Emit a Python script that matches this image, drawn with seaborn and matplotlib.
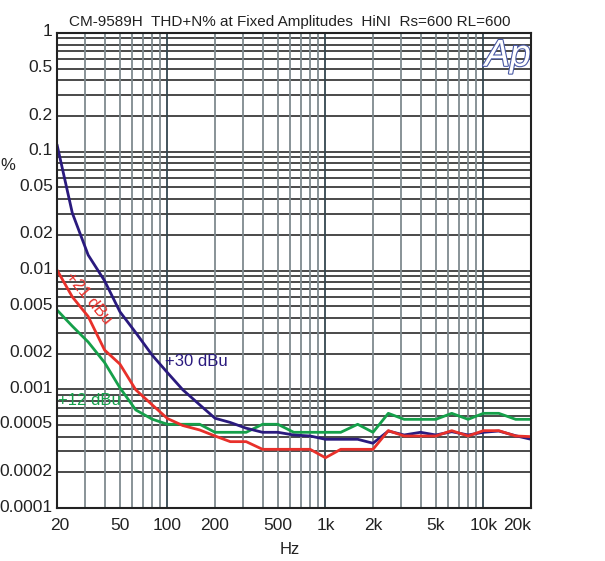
import numpy as np
import pandas as pd
import matplotlib
matplotlib.use('Agg')
import matplotlib.pyplot as plt
import matplotlib.patheffects as pe
import matplotlib.transforms as mtransforms
import seaborn as sns

sns.set_style("white")
plt.rcParams['font.family'] = ['Liberation Sans', 'DejaVu Sans']

# 1/3-octave measurement frequencies (Hz)
freq = [20, 25, 31.5, 40, 50, 63, 80, 100, 125, 160, 200, 250, 315, 400, 500,
        630, 800, 1000, 1250, 1600, 2000, 2500, 3150, 4000, 5000, 6300, 8000,
        10000, 12500, 16000, 20000]

# THD+N (%)
thd_30 = [0.115, 0.0305, 0.0135, 0.0082, 0.0045, 0.0030, 0.00194, 0.00138,
          0.00099, 0.00074, 0.00057, 0.000525, 0.00047, 0.000434, 0.000434,
          0.000412, 0.000404, 0.000379, 0.000379, 0.000379, 0.000351, 0.000445,
          0.000412, 0.000434, 0.000412, 0.000439, 0.000412, 0.000434, 0.000445,
          0.000406, 0.000379]
thd_21 = [0.0101, 0.0060, 0.0041, 0.00214, 0.00163, 0.00099, 0.00074, 0.000567,
          0.000495, 0.000454, 0.000404, 0.000362, 0.000362, 0.000312, 0.000312,
          0.000312, 0.000312, 0.000265, 0.000312, 0.000312, 0.000312, 0.000448,
          0.000404, 0.000404, 0.000404, 0.000448, 0.000404, 0.000448, 0.000448,
          0.000404, 0.000399]
thd_12 = [0.00465, 0.0034, 0.0025, 0.00168, 0.00103, 0.00067, 0.00056, 0.000507,
          0.000507, 0.000507, 0.000434, 0.000434, 0.000434, 0.000507, 0.000507,
          0.000434, 0.000434, 0.000434, 0.000434, 0.000507, 0.000434, 0.000627,
          0.000558, 0.000558, 0.000558, 0.000627, 0.000558, 0.000627, 0.000627,
          0.000558, 0.000558]

x_ticks = [20, 50, 100, 200, 500, 1000, 2000, 5000, 10000, 20000]
x_labels = ['20', '50', '100', '200', '500', '1k', '2k', '5k', '10k', '20k']
y_ticks = [1, 0.5, 0.2, 0.1, 0.05, 0.02, 0.01, 0.005, 0.002, 0.001,
           0.0005, 0.0002, 0.0001]
y_labels = ['1', '0.5', '0.2', '0.1', '0.05', '0.02', '0.01', '0.005',
            '0.002', '0.001', '0.0005', '0.0002', '0.0001']

c30, c21, c12 = '#2a1a7e', '#e8302a', '#15a04a'

df = pd.DataFrame({'Hz': freq * 3,
                   'THD': thd_30 + thd_21 + thd_12,
                   'Level': ['+30 dBu'] * len(freq) + ['+21 dBu'] * len(freq)
                            + ['+12 dBu'] * len(freq)})

fig = plt.figure(figsize=(6.05, 5.61), dpi=100)
ax = fig.add_axes([57 / 605, 53 / 561, 474 / 605, 475 / 561])

ax.set_xscale('log')
ax.set_yscale('log')
ax.set_xlim(20, 20000)
ax.set_ylim(0.0001, 1)

# grid: horizontal dark, vertical grey
for dec in [1e-4, 1e-3, 1e-2, 1e-1]:
    for m in range(1, 10):
        ax.axhline(dec * m, color='#2b2b2b', lw=1.2, zorder=1)
for dec in [10, 100, 1000, 10000]:
    for m in range(1, 10):
        f = dec * m
        if 20 < f < 20000:
            col = '#34474f' if m == 1 else '#7f8a8f'
            ax.axvline(f, color=col, lw=1.3, zorder=1)

sns.lineplot(data=df, x='Hz', y='THD', hue='Level',
             palette={'+30 dBu': c30, '+21 dBu': c21, '+12 dBu': c12},
             hue_order=['+12 dBu', '+30 dBu', '+21 dBu'],
             linewidth=2, legend=False, ax=ax, zorder=3)

ax.text(96, 0.0017, '+30 dBu', color=c30, fontsize=12, ha='left', va='center', zorder=4)
ax.text(20.4, 0.00081, '+12 dBu', color=c12, fontsize=12, ha='left', va='center', zorder=4)
ax.text(31.5, 0.0058, '+21 dBu', color=c21, fontsize=12, ha='center', va='center',
        rotation=-50, rotation_mode='anchor', zorder=4)

ax.text(0.951, 0.952, 'Ap', transform=ax.transAxes, fontsize=27, fontstyle='italic',
        color='white', ha='center', va='center', zorder=5,
        path_effects=[pe.Stroke(linewidth=1.6, foreground='#4a5aa5'), pe.Normal()])

ax.set_xticks(x_ticks)
ax.set_xticklabels(x_labels)
ax.set_yticks(y_ticks)
ax.set_yticklabels(y_labels)
ax.minorticks_off()
ax.tick_params(axis='both', length=0, labelsize=12.5, colors='#222222')
ax.tick_params(axis='x', pad=7)
ax.tick_params(axis='y', pad=3)
ax.get_xticklabels()[-1].set_ha('right')
ax.get_xticklabels()[0].set_ha('left')
ax.get_xticklabels()[0].set_x(20)
shift = mtransforms.ScaledTranslation(0, 2.5 / 100, fig.dpi_scale_trans)
for lab in ax.get_yticklabels():
    lab.set_transform(lab.get_transform() + shift)
shift0 = mtransforms.ScaledTranslation(-7 / 100, 0, fig.dpi_scale_trans)
lab0 = ax.get_xticklabels()[0]
lab0.set_transform(lab0.get_transform() + shift0)

ax.set_xlabel('')
ax.set_ylabel('')
for sp in ax.spines.values():
    sp.set_color('#222222')
    sp.set_linewidth(1.5)
    sp.set_zorder(6)

fig.text(290 / 605, 1 - 22 / 561, 'CM-9589H  THD+N% at Fixed Amplitudes  HiNI  Rs=600 RL=600',
         ha='center', va='center', fontsize=11, color='#222222')
fig.text(290 / 605, 1 - 550 / 561, 'Hz', ha='center', va='center', fontsize=12, color='#222222')
fig.text(0.5 / 605, 1 - 165 / 561, '%', ha='left', va='center', fontsize=12, color='#222222')

fig.savefig('out.png', dpi=100)
